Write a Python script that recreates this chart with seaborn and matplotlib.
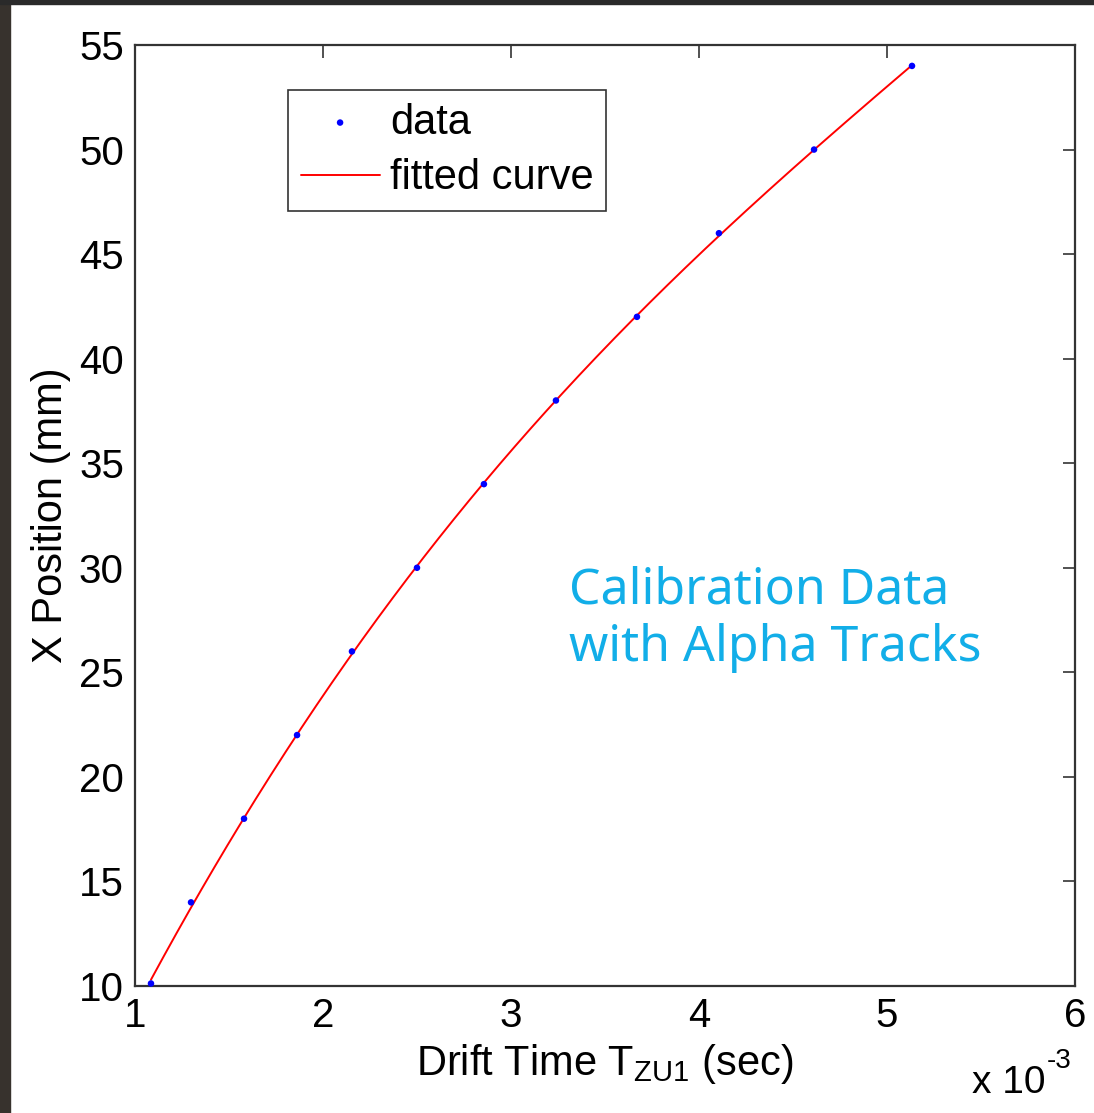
import numpy as np
import pandas as pd
import matplotlib
matplotlib.use("Agg")
import matplotlib.pyplot as plt
import seaborn as sns
from matplotlib.patches import Rectangle

# Calibration measurements: drift time (units of 1e-3 s) vs. X position (mm)
drift_time_ms = [1.085, 1.298, 1.580, 1.862, 2.154, 2.500, 2.856, 3.239, 3.670, 4.106, 4.612, 5.133]
x_position_mm = [10.12, 14, 18, 22, 26, 30, 34, 38, 42, 46, 50, 54]

x_ticks = [1, 2, 3, 4, 5, 6]
y_ticks = [10, 15, 20, 25, 30, 35, 40, 45, 50, 55]

sns.set_style("white")
plt.rcParams["font.family"] = ["Liberation Sans", "DejaVu Sans"]
plt.rcParams["text.color"] = "black"
plt.rcParams["axes.labelcolor"] = "black"

data = pd.DataFrame({"t": drift_time_ms, "x": x_position_mm})

# Cubic fit through the calibration points
coef = np.polyfit(data["t"], data["x"], 3)
t_fit = np.linspace(min(drift_time_ms), max(drift_time_ms), 300)
fit = pd.DataFrame({"t": t_fit, "x": np.polyval(coef, t_fit)})

fig = plt.figure(figsize=(10.94, 11.13), dpi=100)
fig.patch.set_facecolor("white")
ax = fig.add_axes([135 / 1094, 1 - 986 / 1113, 940 / 1094, 941 / 1113])

sns.scatterplot(data=data, x="t", y="x", ax=ax, color="#0000ff", s=22,
                edgecolor="none", label="data", zorder=3, clip_on=False)
sns.lineplot(data=fit, x="t", y="x", ax=ax, color="#ff0000", linewidth=1.4,
             label="fitted curve", zorder=2)

ax.set_xlim(1, 6)
ax.set_ylim(10, 55)
ax.set_xticks(x_ticks)
ax.set_yticks(y_ticks)
ax.set_xticklabels([str(v) for v in x_ticks])
ax.set_yticklabels([str(v) for v in y_ticks])
ax.tick_params(direction="in", length=9, width=1.2, colors="#333333",
               labelcolor="black", labelsize=29, top=True, right=True, pad=8)
for sp in ax.spines.values():
    sp.set_visible(True)
    sp.set_color("#333333")
    sp.set_linewidth(1.6)

ax.set_xlabel(r"Drift Time T$_{\mathregular{ZU1}}$ (sec)", fontsize=30, labelpad=5,
              color="black")
ax.set_ylabel("X Position (mm)", fontsize=30, labelpad=6, color="black")

# axis multiplier
ax.text(1.0 - 30 / 940, -(1093 - 986) / 941, "x 10", transform=ax.transAxes,
        ha="right", va="baseline", fontsize=28, color="black")
ax.text(1.0 - 3 / 940, -(1068 - 986) / 941, "-3", transform=ax.transAxes,
        ha="right", va="baseline", fontsize=20, color="black")

leg = ax.legend(loc="upper left", bbox_to_anchor=(153 / 940, 1 - 45 / 941),
                fontsize=30, frameon=True, fancybox=False, borderpad=0.3,
                handlelength=1.9, handletextpad=0.25, labelspacing=0.38,
                borderaxespad=0, markerscale=1.0)
leg.get_frame().set_edgecolor("black")
leg.get_frame().set_linewidth(1.2)
for t in leg.get_texts():
    t.set_color("black")

ax.text(0.462, 0.39, "Calibration Data\nwith Alpha Tracks", transform=ax.transAxes,
        ha="left", va="center", fontsize=36, color="#12aee8",
        family=["Noto Sans", "DejaVu Sans"], linespacing=1.2)

# dark page edges
fig.add_artist(Rectangle((0, 0), 10 / 1094, 1, transform=fig.transFigure,
                         color="#37322d", zorder=10))
fig.add_artist(Rectangle((0, 1 - 4 / 1113), 1, 4 / 1113, transform=fig.transFigure,
                         color="#2a2a2a", zorder=10))

fig.savefig("out.png", dpi=100, facecolor="white")
